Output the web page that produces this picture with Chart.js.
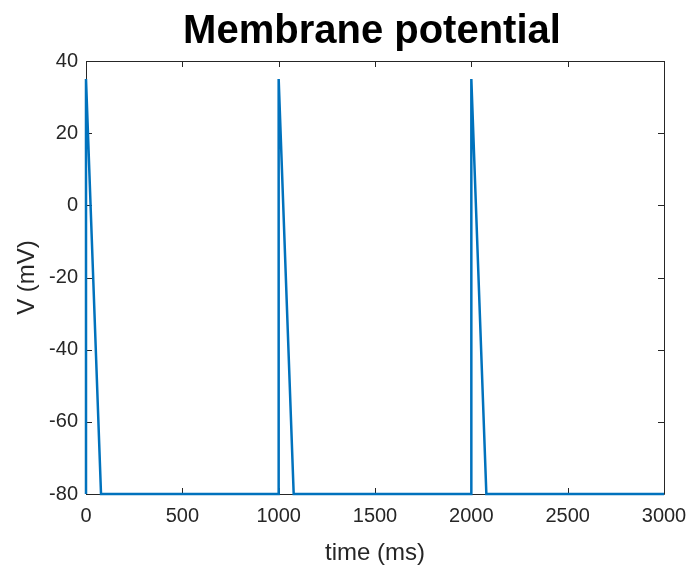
<!DOCTYPE html>
<html>
<head>
<meta charset="utf-8">
<script src="https://cdn.jsdelivr.net/npm/chart.js@4.4.1/dist/chart.umd.min.js"></script>
<style>
  html, body { margin: 0; padding: 0; background: #fff; }
  #wrap { width: 692px; height: 568px; }
</style>
</head>
<body>
<div id="wrap"><canvas id="chart" width="692" height="568"></canvas></div>
<script>
// Data
const timeMs  = [0, 0, 78, 1000, 1000, 1078, 2000, 2000, 2078, 3000];
const voltage = [-80, 35, -80, -80, 35, -80, -80, 35, -80, -80];
const xTicks = [0, 500, 1000, 1500, 2000, 2500, 3000];
const yTicks = [-80, -60, -40, -20, 0, 20, 40];
const chartTitle = 'Membrane potential';

const axisColor = '#262626';
const fontFamily = 'Liberation Sans, Arial, sans-serif';

// Box round the plot area plus inward tick marks (MATLAB style), and the title
const boxPlugin = {
    id: 'box',
    beforeDatasetsDraw(chart) {
        const ctx = chart.ctx;
        const a = chart.chartArea;
        const xs = chart.scales.x, ys = chart.scales.y;
        const len = 6;
        ctx.save();
        ctx.strokeStyle = axisColor;
        ctx.lineWidth = 1;
        ctx.beginPath();
        ctx.rect(Math.round(a.left) + 0.5, Math.round(a.top) + 0.5,
                 Math.round(a.right - a.left), Math.round(a.bottom - a.top));
        xTicks.forEach(v => {
            const px = Math.round(xs.getPixelForValue(v)) + 0.5;
            ctx.moveTo(px, a.bottom); ctx.lineTo(px, a.bottom - len);
            ctx.moveTo(px, a.top); ctx.lineTo(px, a.top + len);
        });
        yTicks.forEach(v => {
            const py = Math.round(ys.getPixelForValue(v)) + 0.5;
            ctx.moveTo(a.left, py); ctx.lineTo(a.left + len, py);
            ctx.moveTo(a.right, py); ctx.lineTo(a.right - len, py);
        });
        ctx.stroke();

        // title centred over the plot area
        ctx.fillStyle = '#000';
        ctx.font = 'bold 40px ' + fontFamily;
        ctx.textAlign = 'center';
        ctx.textBaseline = 'alphabetic';
        ctx.fillText(chartTitle, (a.left + a.right) / 2 - 3, 43);
        ctx.restore();
    }
};

const points = timeMs.map((t, i) => ({ x: t, y: voltage[i] }));

new Chart(document.getElementById('chart'), {
    type: 'scatter',
    data: {
        datasets: [{
            data: points,
            showLine: true,
            borderColor: '#0072BD',
            borderWidth: 2.5,
            pointRadius: 0,
            fill: false,
            tension: 0,
            clip: false
        }]
    },
    options: {
        responsive: false,
        animation: false,
        layout: { padding: { left: 0, right: 28, top: 61, bottom: 0 } },
        plugins: {
            legend: { display: false },
            tooltip: { enabled: false },
            title: { display: false }
        },
        scales: {
            x: {
                type: 'linear',
                min: 0,
                max: 3000,
                afterBuildTicks: s => { s.ticks = xTicks.map(v => ({ value: v })); },
                afterFit: s => { s.height = 74; s.paddingLeft = 0; s.paddingRight = 0; },
                grid: { display: false, drawTicks: false },
                border: { display: false },
                ticks: {
                    color: axisColor,
                    padding: 10,
                    maxRotation: 0,
                    callback: v => String(v),
                    font: { family: fontFamily, size: 20 }
                },
                title: {
                    display: true,
                    text: 'time (ms)',
                    color: axisColor,
                    padding: { top: 0, bottom: 0 },
                    font: { family: fontFamily, size: 24 }
                }
            },
            y: {
                min: -80,
                max: 40,
                afterBuildTicks: s => { s.ticks = yTicks.map(v => ({ value: v })); },
                afterFit: s => { s.width = 86; s.paddingTop = 0; s.paddingBottom = 0; },
                grid: { display: false, drawTicks: false },
                border: { display: false },
                ticks: {
                    color: axisColor,
                    padding: 8,
                    callback: v => String(v),
                    font: { family: fontFamily, size: 20 }
                },
                title: {
                    display: true,
                    text: 'V (mV)',
                    color: axisColor,
                    padding: { top: 13, bottom: 0 },
                    font: { family: fontFamily, size: 24 }
                }
            }
        }
    },
    plugins: [boxPlugin]
});
</script>
</body>
</html>
